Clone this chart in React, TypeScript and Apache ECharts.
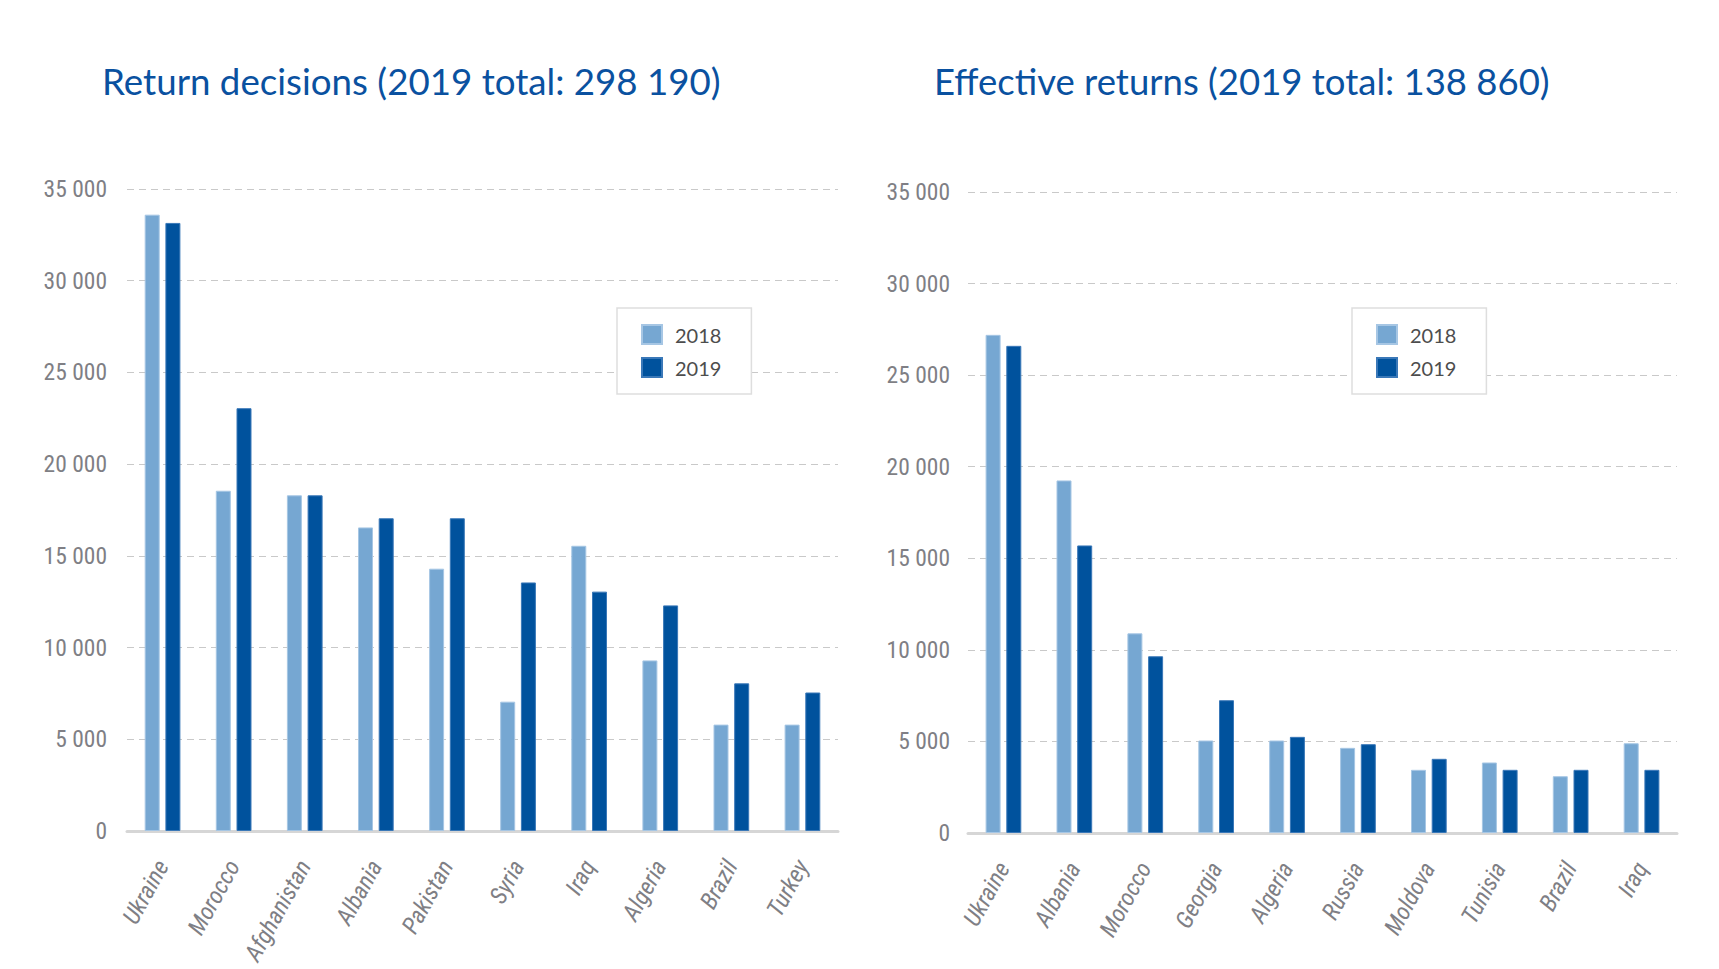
import React, { useEffect, useRef } from "react";
import * as echarts from "echarts";

const decisionCountries = ["Ukraine", "Morocco", "Afghanistan", "Albania", "Pakistan", "Syria", "Iraq", "Algeria", "Brazil", "Turkey"];
const decisions2018 = [33600, 18550, 18300, 16550, 14300, 7050, 15550, 9300, 5800, 5800];
const decisions2019 = [33150, 23050, 18300, 17050, 17050, 13550, 13050, 12300, 8050, 7550];

const returnCountries = ["Ukraine", "Albania", "Morocco", "Georgia", "Algeria", "Russia", "Moldova", "Tunisia", "Brazil", "Iraq"];
const returns2018 = [27200, 19250, 10900, 5050, 5050, 4650, 3450, 3850, 3100, 4900];
const returns2019 = [26600, 15700, 9650, 7250, 5250, 4850, 4050, 3450, 3450, 3450];

const years = ["2018", "2019"];
const leftTitle = "Return decisions (2019 total: 298 190)";
const rightTitle = "Effective returns (2019 total: 138 860)";
const yMin = 0;
const yMax = 35000;
const yStep = 5000;

const LIGHT = "#76a7d2";
const DARK = "#00529d";
const GRAY = "#7f7f85";
const NARROW = "'Roboto Condensed', 'Noto Sans Condensed', 'Open Sans Condensed', 'Liberation Sans Narrow', 'DejaVu Sans Condensed', Lato, sans-serif";

const fmt = (v: number) => String(v).replace(/\B(?=(\d{3})+(?!\d))/g, " ");

export default function App() {
  const ref = useRef<HTMLDivElement>(null);
  useEffect(() => {
    if (!ref.current) return;
    const chart = echarts.init(ref.current, undefined, { renderer: "svg" });

    const yAxis = (gridIndex: number, margin: number) => ({
      type: "value",
      gridIndex,
      min: yMin,
      max: yMax,
      interval: yStep,
      axisLine: { show: false },
      axisTick: { show: false },
      axisLabel: {
        formatter: (v: number) => fmt(v),
        fontFamily: NARROW,
        fontSize: 23.5,
        color: GRAY,
        margin,
      },
      splitLine: { lineStyle: { type: [7, 5], color: "#c9c9c9", width: 1 } },
    });

    const xAxis = (gridIndex: number, data: string[]) => ({
      type: "category",
      gridIndex,
      data,
      axisLine: { lineStyle: { color: "#d6d6d6", width: 3 } },
      axisTick: { show: false },
      axisLabel: {
        interval: 0,
        rotate: 61,
        margin: 31,
        fontFamily: NARROW,
        fontStyle: "italic",
        fontSize: 24,
        color: GRAY,
      },
    });

    const bar = (name: string, data: number[], idx: number, color: string, border: string) => ({
      name,
      type: "bar",
      xAxisIndex: idx,
      yAxisIndex: idx,
      data,
      barWidth: 15,
      barGap: "38%",
      itemStyle: { color, borderColor: border, borderWidth: 1 },
    });

    const legend = (left: number) => ({
      data: years,
      orient: "vertical",
      left,
      top: 308,
      padding: [16, 30, 16, 24],
      itemWidth: 20,
      itemHeight: 19,
      itemGap: 12,
      icon: "rect",
      borderColor: "#dedede",
      borderWidth: 1.5,
      backgroundColor: "#ffffff",
      textStyle: { fontFamily: "Lato, sans-serif", fontSize: 20, color: "#4d4d4d", padding: [0, 0, 0, 8] },
    });

    chart.setOption({
      animation: false,
      backgroundColor: "#ffffff",
      title: [
        {
          text: leftTitle,
          left: 102,
          top: 62,
          padding: 0,
          textStyle: { fontFamily: "Lato, sans-serif", fontWeight: "normal", fontSize: 36.7, color: "#0a51a0" },
        },
        {
          text: rightTitle,
          left: 934,
          top: 62,
          padding: 0,
          textStyle: { fontFamily: "Lato, sans-serif", fontWeight: "normal", fontSize: 36.5, color: "#0a51a0" },
        },
      ],
      legend: [legend(617), legend(1352)],
      grid: [
        { left: 127, top: 189, width: 711, height: 642, containLabel: false, outerBoundsMode: "none" },
        { left: 968, top: 192, width: 709, height: 641, containLabel: false, outerBoundsMode: "none" },
      ],
      xAxis: [xAxis(0, decisionCountries), xAxis(1, returnCountries)],
      yAxis: [yAxis(0, 20), yAxis(1, 18)],
      series: [
        bar(years[0], decisions2018, 0, LIGHT, "#a6c6e4"),
        bar(years[1], decisions2019, 0, DARK, "#3a78b8"),
        bar(years[0], returns2018, 1, LIGHT, "#a6c6e4"),
        bar(years[1], returns2019, 1, DARK, "#3a78b8"),
      ],
    });
    return () => chart.dispose();
  }, []);
  return (
    <div
      ref={ref}
      style={{ position: "fixed", left: 0, top: 0, width: 1719, height: 969, background: "#fff" }}
    />
  );
}
